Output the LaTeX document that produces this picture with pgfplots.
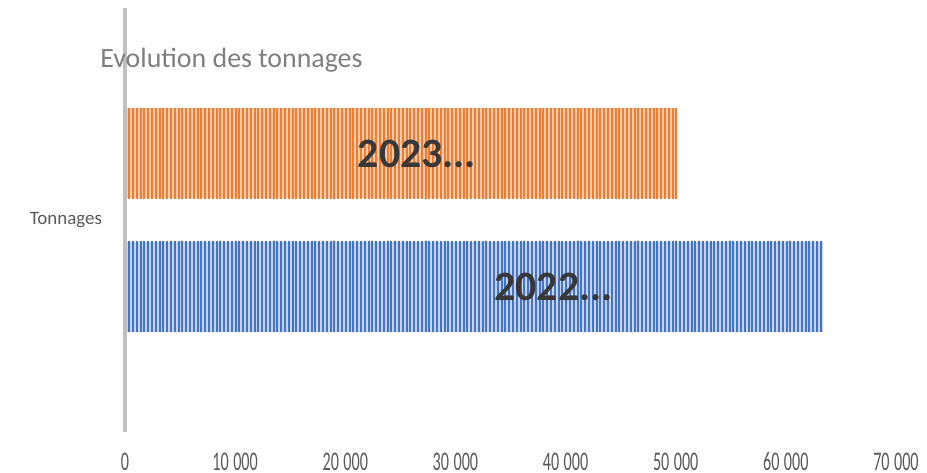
\documentclass[border=0pt]{standalone}
\usepackage{pgfplots}
\pgfplotsset{compat=1.18}
\usetikzlibrary{patterns.meta}
\usepackage{fontspec}
\setmainfont{Carlito}
\definecolor{orangeS}{HTML}{ED7D31}
\definecolor{orangeL}{HTML}{F8CBAD}
\definecolor{blueS}{HTML}{4472C4}
\definecolor{blueL}{HTML}{C5D3EE}
\definecolor{txtgray}{HTML}{595959}
\definecolor{titlegray}{HTML}{7F7F7F}
\definecolor{axgray}{HTML}{BFBFBF}
\begin{document}
\begin{tikzpicture}
\begin{axis}[
    scale only axis,
    width=385.5bp, height=212bp,
    xbar, bar shift=0pt,
    xmin=0, xmax=70000,
    ymin=-0.5, ymax=0.5,
    axis line style={draw=none},
    major tick length=0pt,
    xtick={0,10000,...,70000},
    ytick={0}, yticklabels={Tonnages},
    scaled x ticks=false,
    /pgf/number format/assume math mode=true,
    /pgf/number format/1000 sep={\;},
    xticklabel style={anchor=center, yshift=-15bp, xscale=0.6, font=\fontsize{13.5}{15}\selectfont, text=txtgray},
    yticklabel style={anchor=east, xshift=-8bp, font=\fontsize{9.5}{12}\selectfont, text=txtgray},
    clip=false,
]
% 2023
\addplot[draw=none, fill=orangeL, bar width=0.212,
    postaction={pattern={Lines[angle=90,distance=1.9bp,line width=1bp]}, pattern color=orangeS}]
    coordinates {(50100,0.157)};
% 2022
\addplot[draw=none, fill=blueL, bar width=0.212,
    postaction={pattern={Lines[angle=90,distance=1.9bp,line width=1bp]}, pattern color=blueS}]
    coordinates {(63400,-0.157)};
\draw[axgray, line width=2bp] (rel axis cs:0,0) -- (rel axis cs:0,1);
\coordinate (sw) at (rel axis cs:0,0);
\node[anchor=west, inner sep=0pt, font=\fontsize{21}{25}\selectfont\bfseries, text=black!78]
    at (axis cs:21100,0.157) {2023...};
\node[anchor=west, inner sep=0pt, font=\fontsize{21}{25}\selectfont\bfseries, text=black!78]
    at (axis cs:33500,-0.157) {2022...};
\end{axis}
\node[anchor=west, inner sep=0pt, font=\fontsize{14}{17}\selectfont, text=titlegray]
    at ([shift={(-12.5bp,186bp)}]sw) {Evolution des tonnages};
\pgfresetboundingbox
\path[use as bounding box] ([shift={(-62.5bp,-20.5bp)}]sw) rectangle ([shift={(401bp,216bp)}]sw);
\end{tikzpicture}
\end{document}
